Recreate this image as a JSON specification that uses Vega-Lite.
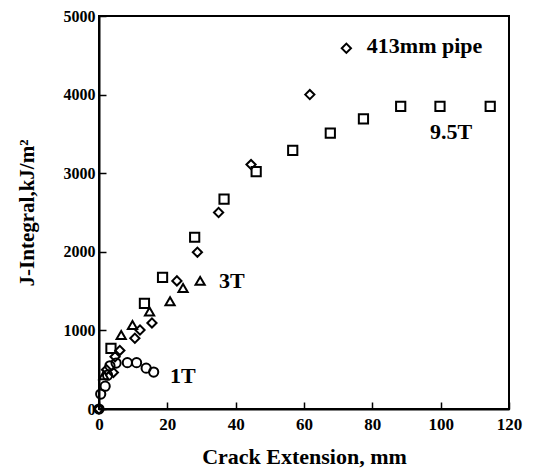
{
  "$schema": "https://vega.github.io/schema/vega-lite/v6.json",
  "width": 410,
  "height": 393,
  "autosize": {"type": "none"},
  "padding": {"left": 99, "top": 16, "right": 25, "bottom": 60},
  "background": "white",
  "config": {
    "view": {"stroke": "black", "strokeWidth": 2},
    "font": "Liberation Serif",
    "axis": {
      "domainColor": "black",
      "domainWidth": 2,
      "tickColor": "black",
      "tickWidth": 1.5,
      "labelColor": "black",
      "labelFont": "Liberation Serif",
      "labelFontWeight": "bold",
      "titleFont": "Liberation Serif",
      "titleFontWeight": "bold",
      "titleColor": "black",
      "grid": false
    }
  },
  "layer": [
    {
      "data": {
        "values": [
          {"series": "1T", "x": 0, "y": 0},
          {"series": "1T", "x": 0.5, "y": 190},
          {"series": "1T", "x": 1.8, "y": 290},
          {"series": "1T", "x": 2.5, "y": 430},
          {"series": "1T", "x": 3.2, "y": 550},
          {"series": "1T", "x": 5, "y": 585},
          {"series": "1T", "x": 8.3, "y": 590},
          {"series": "1T", "x": 11, "y": 590},
          {"series": "1T", "x": 13.8, "y": 520},
          {"series": "1T", "x": 16, "y": 470},
          {"series": "3T", "x": 1.4, "y": 430},
          {"series": "3T", "x": 6.5, "y": 940},
          {"series": "3T", "x": 9.8, "y": 1070},
          {"series": "3T", "x": 14.8, "y": 1240},
          {"series": "3T", "x": 20.8, "y": 1370},
          {"series": "3T", "x": 24.6, "y": 1540},
          {"series": "3T", "x": 29.6, "y": 1630},
          {"series": "9.5T", "x": 3.5, "y": 770},
          {"series": "9.5T", "x": 13.3, "y": 1345},
          {"series": "9.5T", "x": 18.6, "y": 1675},
          {"series": "9.5T", "x": 28, "y": 2185},
          {"series": "9.5T", "x": 36.6, "y": 2670},
          {"series": "9.5T", "x": 46, "y": 3020},
          {"series": "9.5T", "x": 56.7, "y": 3290},
          {"series": "9.5T", "x": 67.7, "y": 3510},
          {"series": "9.5T", "x": 77.4, "y": 3690},
          {"series": "9.5T", "x": 88.3, "y": 3850},
          {"series": "9.5T", "x": 99.8, "y": 3850},
          {"series": "9.5T", "x": 114.5, "y": 3850},
          {"series": "413mm pipe", "x": 0, "y": 0},
          {"series": "413mm pipe", "x": 2.2, "y": 500},
          {"series": "413mm pipe", "x": 4.2, "y": 465},
          {"series": "413mm pipe", "x": 4.7, "y": 665},
          {"series": "413mm pipe", "x": 6.1, "y": 745},
          {"series": "413mm pipe", "x": 10.5, "y": 900},
          {"series": "413mm pipe", "x": 12, "y": 1005},
          {"series": "413mm pipe", "x": 15.5, "y": 1095},
          {"series": "413mm pipe", "x": 22.8, "y": 1630},
          {"series": "413mm pipe", "x": 28.8, "y": 1995},
          {"series": "413mm pipe", "x": 35, "y": 2500},
          {"series": "413mm pipe", "x": 44.5, "y": 3110},
          {"series": "413mm pipe", "x": 61.7, "y": 4000},
          {"series": "413mm pipe", "x": 72.4, "y": 4590}
        ]
      },
      "mark": {"type": "point", "filled": false, "stroke": "black", "strokeWidth": 2, "size": 85, "opacity": 1, "clip": false},
      "encoding": {
        "x": {
          "field": "x", "type": "quantitative",
          "scale": {"domain": [0, 120], "nice": false, "zero": false},
          "axis": {
            "title": "Crack Extension, mm",
            "titleFontSize": 22,
            "titlePadding": 14,
            "values": [0, 10, 20, 30, 40, 50, 60, 70, 80, 90, 100, 110, 120],
            "labelExpr": "datum.value % 20 === 0 ? datum.label : ''",
            "labelFontSize": 17,
            "tickSize": {"expr": "datum.value % 20 === 0 ? -7 : -4"},
            "labelPadding": 14,
            "labelFlush": false
          }
        },
        "y": {
          "field": "y", "type": "quantitative",
          "scale": {"domain": [0, 5000], "nice": false, "zero": false},
          "axis": {
            "title": "J-Integral,kJ/m²",
            "titleFontSize": 21,
            "titlePadding": 26,
            "values": [0, 500, 1000, 1500, 2000, 2500, 3000, 3500, 4000, 4500, 5000],
            "labelExpr": "datum.value % 1000 === 0 ? datum.label : ''",
            "format": "d",
            "labelFontSize": 16,
            "tickSize": {"expr": "datum.value % 1000 === 0 ? -7 : -4"},
            "labelPadding": 11,
            "labelFlush": false
          }
        },
        "shape": {
          "field": "series", "type": "nominal", "legend": null,
          "scale": {"domain": ["1T", "3T", "9.5T", "413mm pipe"], "range": ["circle", "triangle-up", "square", "diamond"]}
        }
      }
    },
    {
      "data": {
        "values": [
          {"label": "413mm pipe", "x": 78.4, "y": 4616},
          {"label": "9.5T", "x": 96.9, "y": 3527},
          {"label": "3T", "x": 35.1, "y": 1630},
          {"label": "1T", "x": 20.8, "y": 414}
        ]
      },
      "mark": {"type": "text", "align": "left", "baseline": "middle", "font": "Liberation Serif", "fontWeight": "bold", "fontSize": 22, "color": "black"},
      "encoding": {
        "x": {"field": "x", "type": "quantitative"},
        "y": {"field": "y", "type": "quantitative"},
        "text": {"field": "label"}
      }
    }
  ]
}
